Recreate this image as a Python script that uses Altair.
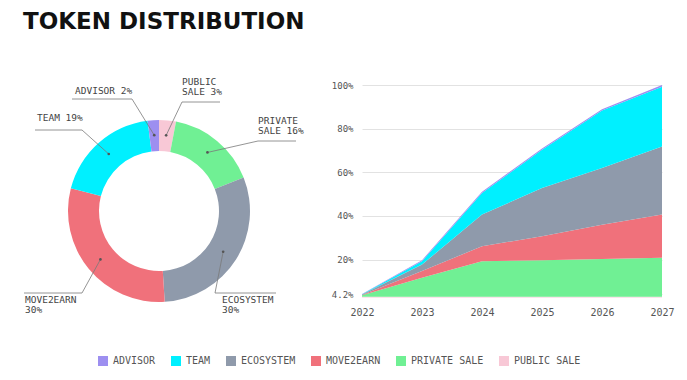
import math
import altair as alt
import pandas as pd

# ---------------- data ----------------
CATEGORIES = ["ADVISOR", "TEAM", "ECOSYSTEM", "MOVE2EARN", "PRIVATE SALE", "PUBLIC SALE"]
COLORS = ["#9d8ff0", "#00f0ff", "#8f9aab", "#f0717b", "#70f094", "#f8c8d6"]

# donut (clockwise from 12 o'clock)
DONUT_ORDER = ["PUBLIC SALE", "PRIVATE SALE", "ECOSYSTEM", "MOVE2EARN", "TEAM", "ADVISOR"]
DONUT_SHARE = [3, 16, 30, 30, 19, 2]

# unlock schedule (stacked increments, % of supply)
YEARS = [2022, 2023, 2024, 2025, 2026, 2027]
PUBLIC_SALE = [3.0, 3.0, 3.0, 3.0, 3.0, 3.0]
PRIVATE_SALE = [0.6, 8.6, 16.2, 16.7, 17.3, 17.8]
MOVE2EARN = [0.2, 3.1, 6.9, 11.0, 15.7, 19.8]
ECOSYSTEM = [0.2, 3.0, 14.5, 22.1, 25.9, 31.2]
TEAM = [0.1, 1.5, 9.9, 17.5, 26.4, 27.4]
ADVISOR = [0.1, 0.5, 0.6, 0.6, 0.6, 0.8]
STACK_ORDER = ["PUBLIC SALE", "PRIVATE SALE", "MOVE2EARN", "ECOSYSTEM", "TEAM", "ADVISOR"]
Y_TICKS = [4.2, 20, 40, 60, 80, 100]

TITLE = "TOKEN DISTRIBUTION"

# ---------------- layout (page pixels) ----------------
W, H = 671, 364
M = 8
MONO = "DejaVu Sans Mono"
CX, CY, R_OUT, R_IN, R_DOT = 159, 211, 91, 60, 76

LABEL_LAYOUT = {
    "ADVISOR": dict(elbow=(132, 99), end_x=72, text_x=75, base=[94], lines=["ADVISOR {p}%"]),
    "PUBLIC SALE": dict(elbow=(182, 102), end_x=220, text_x=182, base=[85, 95], lines=["PUBLIC", "SALE {p}%"]),
    "PRIVATE SALE": dict(elbow=(258, 141), end_x=296, text_x=258, base=[124, 134], lines=["PRIVATE", "SALE {p}%"]),
    "ECOSYSTEM": dict(elbow=(215, 293), end_x=276, text_x=222, base=[303, 313], lines=["ECOSYSTEM", "{p}%"]),
    "MOVE2EARN": dict(elbow=(82, 293), end_x=24, text_x=25, base=[303, 313], lines=["MOVE2EARN", "{p}%"]),
    "TEAM": dict(elbow=(82, 130), end_x=35, text_x=37, base=[121], lines=["TEAM {p}%"]),
}

# ---------------- tables ----------------
series = {"PUBLIC SALE": PUBLIC_SALE, "PRIVATE SALE": PRIVATE_SALE, "MOVE2EARN": MOVE2EARN,
          "ECOSYSTEM": ECOSYSTEM, "TEAM": TEAM, "ADVISOR": ADVISOR}
area_rows = []
for cat, vals in series.items():
    for yr, v in zip(YEARS, vals):
        area_rows.append({"year": yr, "value": v, "category": cat, "so": STACK_ORDER.index(cat)})
area_df = pd.DataFrame(area_rows)

donut_df = pd.DataFrame({"category": DONUT_ORDER, "share": DONUT_SHARE,
                         "o": list(range(len(DONUT_ORDER)))})

seg_rows, text_rows, dot_rows = [], [], []
cum = 0
for cat, share in zip(DONUT_ORDER, DONUT_SHARE):
    mid = (cum + share / 2) / 100 * 2 * math.pi
    cum += share
    dx = CX + R_DOT * math.sin(mid) - M
    dy = CY - R_DOT * math.cos(mid) - M
    lay = LABEL_LAYOUT[cat]
    ex, ey = lay["elbow"][0] - M, lay["elbow"][1] - M
    dot_rows.append({"x": dx, "y": dy})
    seg_rows.append({"x": dx, "y": dy, "x2": ex, "y2": ey})
    seg_rows.append({"x": ex, "y": ey, "x2": lay["end_x"] - M, "y2": ey})
    for line, b in zip(lay["lines"], lay["base"]):
        text_rows.append({"x": lay["text_x"] - M, "y": b - M, "t": line.format(p=share)})
seg_df = pd.DataFrame(seg_rows)
text_df = pd.DataFrame(text_rows)
dot_df = pd.DataFrame(dot_rows)

PX = alt.Scale(domain=[0, W], range=[0, W], nice=False, zero=False)
PY = alt.Scale(domain=[0, H], range=[0, H], nice=False, zero=False)

legend = alt.Legend(orient="none", legendX=90, legendY=348, direction="horizontal", title=None,
                    symbolType="square", symbolSize=100, symbolStrokeWidth=0, labelFont=MONO,
                    labelFontSize=10, labelColor="#555", columnPadding=15, labelOffset=5, padding=0)
color = alt.Color("category:N", scale=alt.Scale(domain=CATEGORIES, range=COLORS), legend=legend)

area = alt.Chart(area_df).mark_area(interpolate="linear").encode(
    x=alt.X("year:Q",
            scale=alt.Scale(domain=[2022, 2027], range=[362 - M, 662 - M], nice=False, zero=False),
            axis=alt.Axis(values=YEARS, format="d", title=None, grid=False, ticks=False, tickSize=0,
                          domain=False, labelFont=MONO, labelFontSize=10, labelColor="#555",
                          labelPadding=9, offset=-74, labelFlush=False)),
    y=alt.Y("value:Q", stack="zero",
            scale=alt.Scale(domain=[2.6, 100], range=[297.5 - M, 85 - M], clamp=True, nice=False, zero=False),
            axis=alt.Axis(values=Y_TICKS, labelExpr="datum.value + '%'", title=None, grid=True,
                          gridColor="#e2e2e2", gridWidth=1, ticks=False, tickSize=0, domain=False,
                          labelFont=MONO, labelFontSize=9, labelColor="#555", labelPadding=9,
                          offset=-(362 - M))),
    color=color,
    order=alt.Order("so:Q"),
)

donut = alt.Chart(donut_df).mark_arc(innerRadius=R_IN, outerRadius=R_OUT).encode(
    theta=alt.Theta("share:Q", stack=True),
    color=color,
    order=alt.Order("o:Q"),
    x=alt.value(CX - M),
    y=alt.value(CY - M),
)

rules = alt.Chart(seg_df).mark_rule(color="#7a7a7a", strokeWidth=0.8).encode(
    x=alt.X("x:Q", scale=PX, axis=None), y=alt.Y("y:Q", scale=PY, axis=None),
    x2="x2:Q", y2="y2:Q")

dots = alt.Chart(dot_df).mark_circle(size=7, color="#555", opacity=1).encode(
    x=alt.X("x:Q", scale=PX, axis=None), y=alt.Y("y:Q", scale=PY, axis=None))

labels = alt.Chart(text_df).mark_text(align="left", baseline="alphabetic", font=MONO,
                                      fontSize=9.5, color="#444").encode(
    x=alt.X("x:Q", scale=PX, axis=None), y=alt.Y("y:Q", scale=PY, axis=None), text="t:N")

title = alt.Chart(pd.DataFrame({"t": [TITLE]})).mark_text(
    align="left", baseline="alphabetic", font="DejaVu Sans", fontSize=23, fontWeight="bold",
    color="#111").encode(x=alt.value(23 - M), y=alt.value(29 - M), text="t:N")

chart = alt.layer(area, donut, rules, dots, labels, title).resolve_scale(
    x="independent", y="independent"
).properties(
    width=W, height=H, autosize=alt.AutoSizeParams(type="none"), padding=0, background="white"
).configure_view(stroke=None)

chart.save("out.html", embed_options={"renderer": "svg", "actions": False})
